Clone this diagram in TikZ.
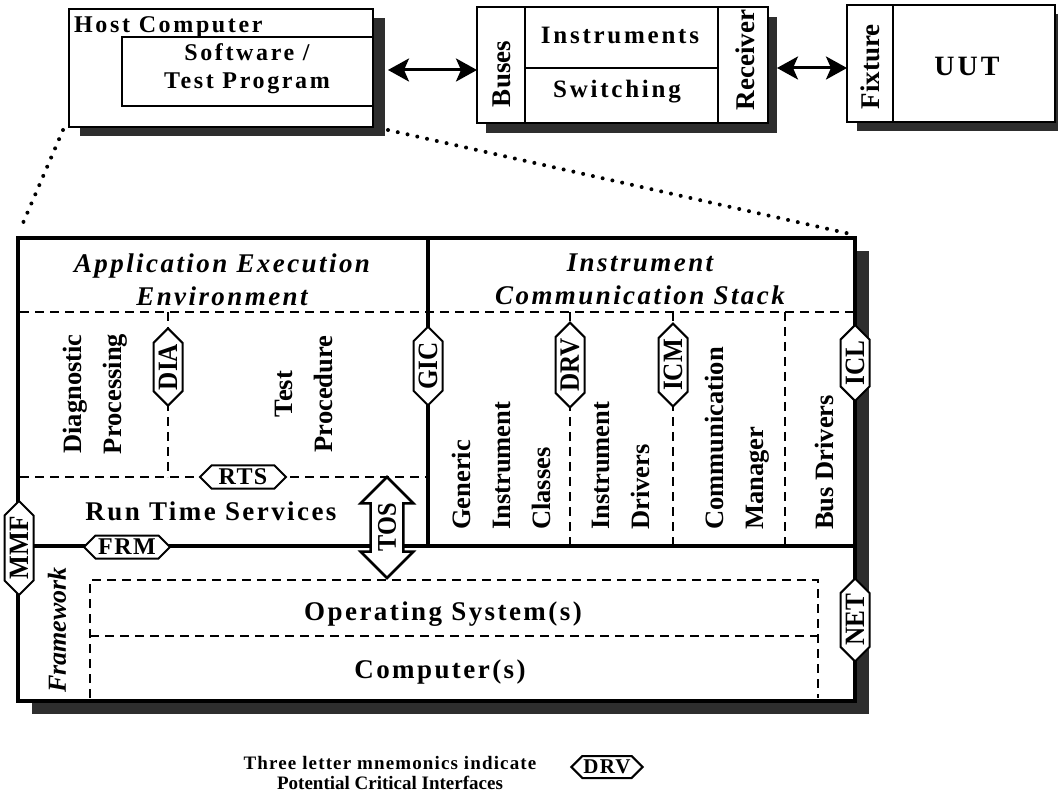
\documentclass[tikz,border=0pt]{standalone}
\usepackage{fontspec}
\setmainfont{Liberation Serif}
\newfontfamily\tkA[LetterSpace=11]{Liberation Serif}
\newfontfamily\tkB[LetterSpace=9]{Liberation Serif}
\newfontfamily\tkC[LetterSpace=6]{Liberation Serif}
\newfontfamily\tkD[LetterSpace=6]{Liberation Serif}
\newfontfamily\cond[FakeStretch=0.9]{Liberation Serif}
\usetikzlibrary{shapes.symbols,shapes.arrows,arrows.meta,calc}
\begin{document}
\begin{tikzpicture}[x=1pt,y=-1pt,
  box/.style={draw, line width=2.5pt, fill=white, inner sep=0pt, outer sep=0pt, anchor=north west},
  shade/.style={fill=black!82},
  dashln/.style={line width=2pt, dash pattern=on 9pt off 6pt},
  dotln/.style={line width=4pt, line cap=round, dash pattern=on 0pt off 10pt},
  hexbase/.style={signal, signal to=west and east, signal pointer angle=90, draw, fill=white, line width=2pt, inner sep=1pt},
  hexv/.style={hexbase, rotate=90, minimum width=70pt, minimum height=29pt, font={\cond\bfseries\fontsize{28}{28}\selectfont}},
  hexh/.style={hexbase, minimum width=86pt, minimum height=23pt, font={\tkC\bfseries\fontsize{24}{24}\selectfont}},
  lbl/.style={inner sep=0pt, font={\tkA\bfseries\fontsize{24}{28}\selectfont}},
  lblb/.style={inner sep=0pt, font={\tkA\bfseries\fontsize{25}{28}\selectfont}},
  side/.style={inner sep=0pt, rotate=90, font={\bfseries\fontsize{27}{27}\selectfont}},
  title/.style={inner sep=0pt, align=center, font={\tkB\bfseries\itshape\fontsize{27}{33}\selectfont}},
  vtext/.style={inner sep=0pt, rotate=90, font={\bfseries\fontsize{26.5}{40}\selectfont}},
  body/.style={inner sep=0pt, font={\tkB\bfseries\fontsize{27}{30}\selectfont}},
  biarrow/.style={line width=3pt, arrows={Stealth[length=21pt,width=23pt,inset=5pt]-Stealth[length=21pt,width=23pt,inset=5pt]}}
]
\useasboundingbox (0,0) rectangle (1058,799);
\fill[white] (0,0) rectangle (1058,799);

% ---------- top row ----------
\fill[shade] (80,18) rectangle (385,136);
\node[box, minimum width=304pt, minimum height=118pt] (host) at (69,9) {};
\node[box, minimum width=251pt, minimum height=69pt] (sw) at (122,37) {};
\node[lbl, anchor=base west] (hostlbl) at (74,33) {Host Computer};
\node[lbl, align=center] (swlbl) at (247,69) {Software /\\Test Program};

\fill[shade] (486,17) rectangle (777,133);
\node[box, minimum width=48pt, minimum height=116pt] (buses) at (477,7) {};
\node[box, minimum width=193pt, minimum height=61pt] (instr) at (525,7) {};
\node[box, minimum width=193pt, minimum height=55pt] (switch) at (525,68) {};
\node[box, minimum width=50pt, minimum height=116pt] (recv) at (718,7) {};
\node[side] (buseslbl) at (502,74) {Buses};
\node[lblb, anchor=base] (instrlbl) at (620,44) {Instruments};
\node[lblb, anchor=base] (switchlbl) at (617,98) {Switching};
\node[side] (recvlbl) at (745,60) {Receiver};

\fill[shade] (857,14) rectangle (1066,131);
\node[box, minimum width=46pt, minimum height=117pt] (fixbox) at (847,5) {};
\node[box, minimum width=162pt, minimum height=117pt] (uut) at (893,5) {};
\node[side] (fixlbl) at (870,67) {Fixture};
\node[inner sep=0pt, font={\tkA\bfseries\fontsize{28}{28}\selectfont}, anchor=base] (uutlbl) at (967,76) {UUT};

\draw[biarrow] ($(host.east)+(15,2)$) -- ($(host.east -| buses.west)+(0,2)$);
\draw[biarrow] ($(recv.east)+(9,3)$) -- ($(recv.east -| fixbox.west)+(0,3)$);

% ---------- main block ----------
\fill[shade] (32,251) rectangle (869,714);
\node[box, line width=4pt, minimum width=837pt, minimum height=463pt] (main) at (18,238) {};

\draw[dotln] ($(host.south west)+(-6,3)$) -- ($(main.north west)+(2,-8)$);
\draw[dotln] ($(host.south east)+(15,3)$) -- ($(main.north east)+(0,-3)$);

\draw[line width=3.5pt] (428,238) -- (428,546);
\draw[line width=3.5pt] (18,546) -- (855,546);
\draw[dashln] (20,312) -- (853,312);
\draw[dashln] (168,312) -- (168,477);
\draw[dashln] (20,477) -- (428,477);
\draw[dashln] (570,312) -- (570,546);
\draw[dashln] (673,312) -- (673,546);
\draw[dashln] (785,312) -- (785,546);
\draw[dashln] (90,698) -- (90,580) -- (818,580) -- (818,698);
\draw[dashln] (90,636) -- (818,636);

\node[hexv] (dia) at (168,367) {DIA};
\node[hexv] (gic) at (428,366) {GIC};
\node[hexv] (drv) at (570,365) {DRV};
\node[hexv] (icm) at (673,365) {ICM};
\node[hexv] (icl) at (855,363) {ICL};
\node[hexv] (mmf) at (19,548) {MMF};
\node[hexv] (net) at (855,620) {NET};
\node[hexh] (rts) at (243,477) {RTS};
\node[hexh] (frm) at (127,547) {FRM};
\node[double arrow, draw, fill=white, line width=2.5pt, rotate=90, minimum height=101pt, minimum width=50pt, double arrow head extend=10pt, inner xsep=0pt, inner ysep=6pt, font={\cond\bfseries\fontsize{27}{27}\selectfont}] (tos) at (387,527.5) {TOS};

\node[title] (aeet) at (222,279.5) {Application Execution\\Environment};
\node[title] (icst) at (640,279.5) {Instrument\\Communication Stack};
\node[vtext, align=center] (diag) at (95,394) {Diagnostic\\Processing};
\node[vtext, align=center] (testp) at (304,394) {Test\\Procedure};
\node[body, anchor=base] (rtsv) at (211,520) {Run Time Services};
\node[vtext, align=left, anchor=west] (gicls) at (501,530) {Generic\\Instrument\\Classes};
\node[vtext, align=left, anchor=west] (idrv) at (621,530) {Instrument\\Drivers};
\node[vtext, align=left, anchor=west] (cmgr) at (737,530) {Communication\\Manager};
\node[vtext, align=left, anchor=west] (bdrv) at (824,530) {Bus Drivers};
\node[inner sep=0pt, rotate=90, font={\bfseries\itshape\fontsize{26}{26}\selectfont}] (fw) at (57,630) {Framework};
\node[body, anchor=base] (os) at (443,620) {Operating System(s)};
\node[body, anchor=base] (comp) at (440,678) {Computer(s)};

% ---------- legend ----------
\node[inner sep=0pt, align=center, font={\bfseries\fontsize{19}{20}\selectfont}] (legend) at (390,773) {{\tkD Three letter mnemonics indicate}\\Potential Critical Interfaces};
\node[hexh, minimum width=60pt, minimum height=22pt, font={\tkD\bfseries\fontsize{21}{21}\selectfont}] (lgdrv) at (607,767) {DRV};
\end{tikzpicture}
\end{document}
